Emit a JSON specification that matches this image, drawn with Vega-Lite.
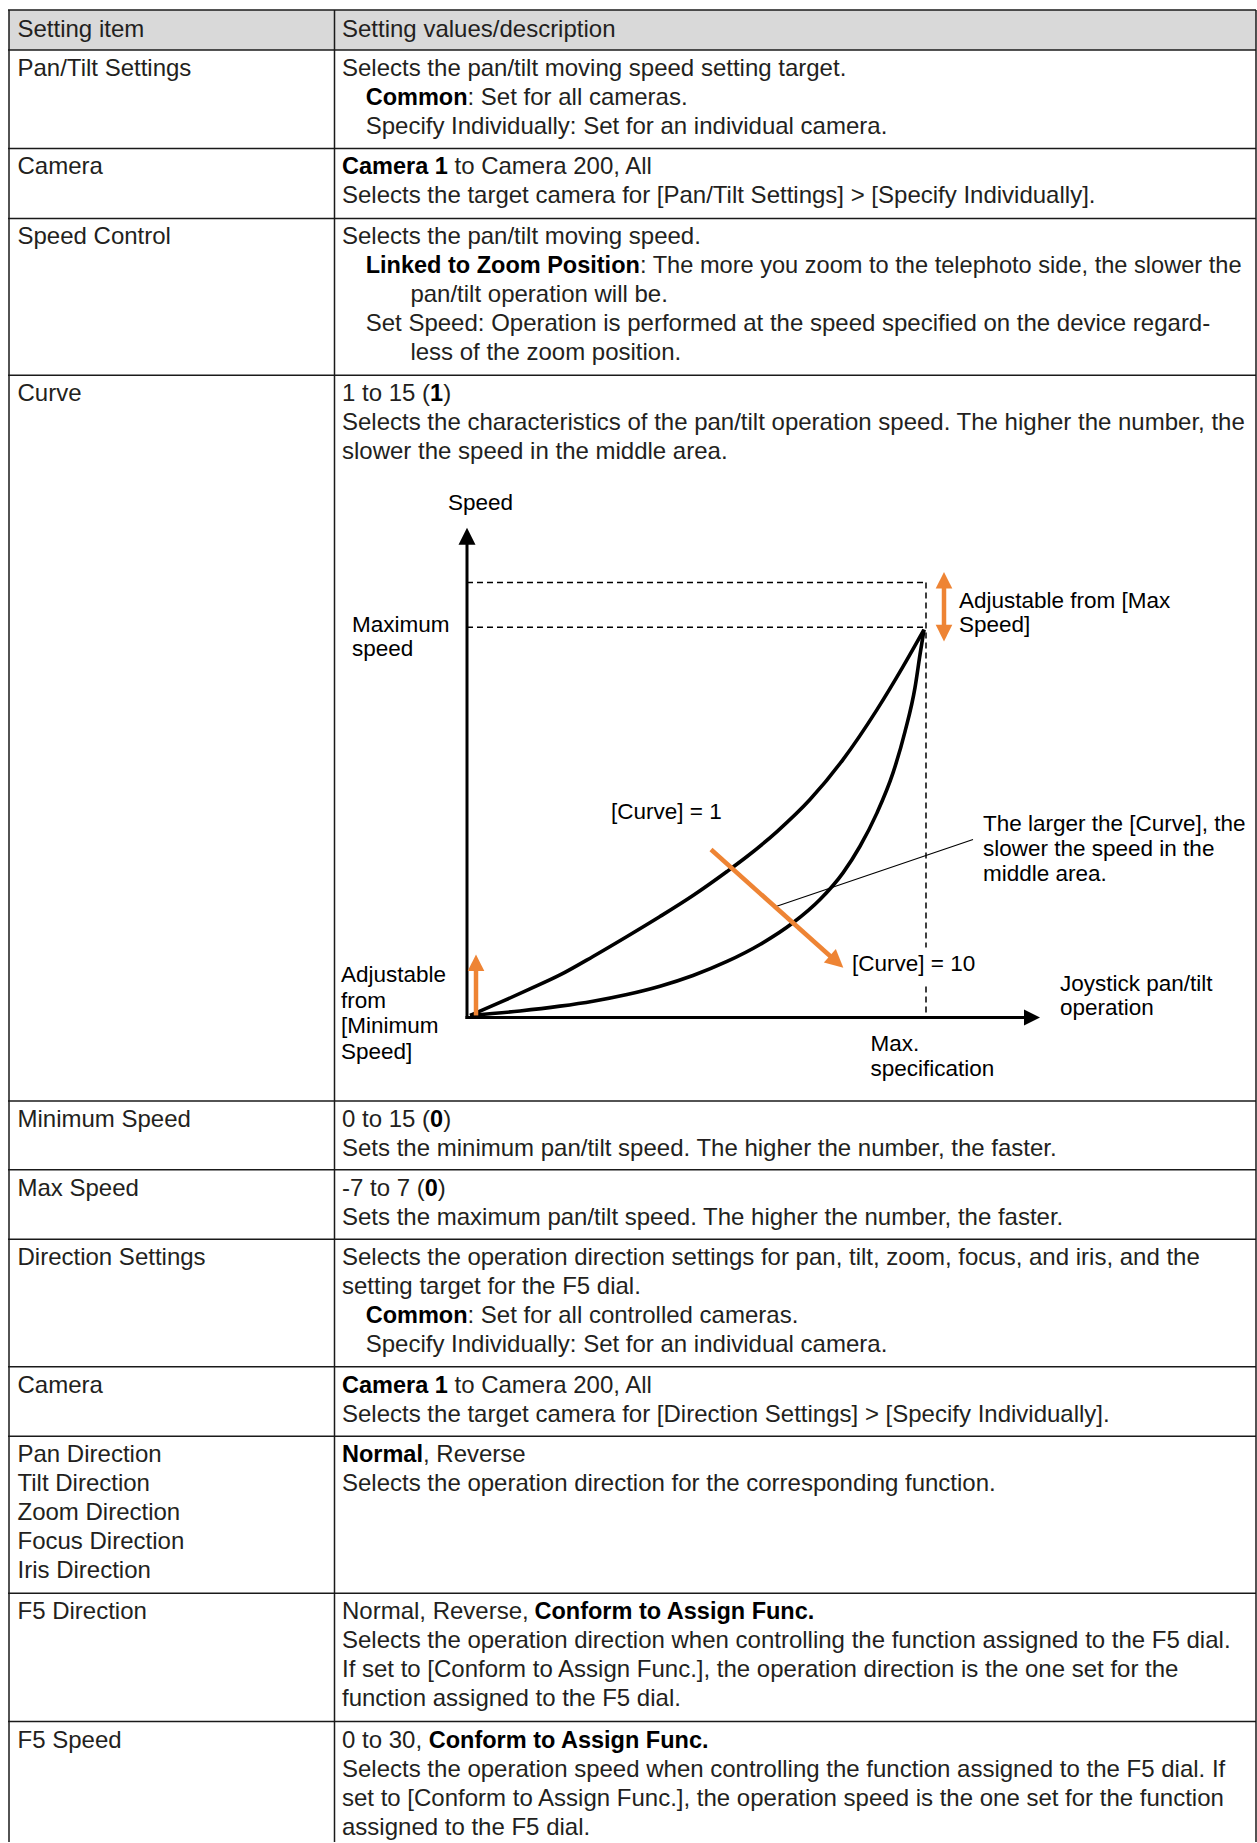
{
  "$schema": "https://vega.github.io/schema/vega-lite/v6.json",
  "width": 1257,
  "height": 1843,
  "padding": 0,
  "autosize": {"type": "fit", "contains": "padding"},
  "background": "white",
  "config": {"view": {"stroke": null}},
  "datasets": {
    "header": [{"x": 9, "x2": 1256, "y": 10, "y2": 50}],
    "grid": [
      {"x": 8, "x2": 1256, "y": 10, "y2": 10},
      {"x": 8, "x2": 1256, "y": 50, "y2": 50},
      {"x": 8, "x2": 1256, "y": 148.5, "y2": 148.5},
      {"x": 8, "x2": 1256, "y": 218.5, "y2": 218.5},
      {"x": 8, "x2": 1256, "y": 375.5, "y2": 375.5},
      {"x": 8, "x2": 1256, "y": 1101.5, "y2": 1101.5},
      {"x": 8, "x2": 1256, "y": 1170.5, "y2": 1170.5},
      {"x": 8, "x2": 1256, "y": 1240, "y2": 1240},
      {"x": 8, "x2": 1256, "y": 1367.5, "y2": 1367.5},
      {"x": 8, "x2": 1256, "y": 1437, "y2": 1437},
      {"x": 8, "x2": 1256, "y": 1594, "y2": 1594},
      {"x": 8, "x2": 1256, "y": 1722.5, "y2": 1722.5},
      {"x": 9, "x2": 9, "y": 10, "y2": 1843},
      {"x": 334.5, "x2": 334.5, "y": 10, "y2": 1843},
      {"x": 1256, "x2": 1256, "y": 10, "y2": 1843}
    ],
    "dashed": [
      {"x": 467, "x2": 926, "y": 582.7, "y2": 582.7},
      {"x": 467, "x2": 926, "y": 627.5, "y2": 627.5},
      {"x": 926, "x2": 926, "y": 582.7, "y2": 948},
      {"x": 926, "x2": 926, "y": 987, "y2": 1018}
    ],
    "axes": [
      {"x": 467, "x2": 467, "y": 1019.5, "y2": 544},
      {"x": 465.5, "x2": 1025, "y": 1018, "y2": 1018}
    ],
    "curves": [
      {"curve": "Curve 1", "x": 470, "y": 1016},
      {"curve": "Curve 1", "x": 500, "y": 1003},
      {"curve": "Curve 1", "x": 530, "y": 989.5},
      {"curve": "Curve 1", "x": 560, "y": 975.5},
      {"curve": "Curve 1", "x": 593, "y": 957},
      {"curve": "Curve 1", "x": 627, "y": 937},
      {"curve": "Curve 1", "x": 660, "y": 917},
      {"curve": "Curve 1", "x": 693, "y": 896},
      {"curve": "Curve 1", "x": 727, "y": 872},
      {"curve": "Curve 1", "x": 747, "y": 857},
      {"curve": "Curve 1", "x": 777, "y": 832},
      {"curve": "Curve 1", "x": 810, "y": 800},
      {"curve": "Curve 1", "x": 843, "y": 760},
      {"curve": "Curve 1", "x": 877, "y": 710},
      {"curve": "Curve 1", "x": 903, "y": 667},
      {"curve": "Curve 1", "x": 924, "y": 630},
      {"curve": "Curve 10", "x": 470, "y": 1016},
      {"curve": "Curve 10", "x": 520, "y": 1011.5},
      {"curve": "Curve 10", "x": 560, "y": 1006.7},
      {"curve": "Curve 10", "x": 593, "y": 1001.7},
      {"curve": "Curve 10", "x": 627, "y": 995},
      {"curve": "Curve 10", "x": 660, "y": 986.7},
      {"curve": "Curve 10", "x": 693, "y": 976},
      {"curve": "Curve 10", "x": 727, "y": 962},
      {"curve": "Curve 10", "x": 760, "y": 945},
      {"curve": "Curve 10", "x": 793, "y": 923.3},
      {"curve": "Curve 10", "x": 820, "y": 900},
      {"curve": "Curve 10", "x": 843, "y": 873.3},
      {"curve": "Curve 10", "x": 860, "y": 846.7},
      {"curve": "Curve 10", "x": 877, "y": 813.3},
      {"curve": "Curve 10", "x": 893, "y": 773.3},
      {"curve": "Curve 10", "x": 905, "y": 732},
      {"curve": "Curve 10", "x": 915, "y": 688},
      {"curve": "Curve 10", "x": 920, "y": 655},
      {"curve": "Curve 10", "x": 924, "y": 630}
    ],
    "leader": [{"x": 776, "x2": 973, "y": 907, "y2": 840}],
    "orangeLines": [
      {"x": 476, "x2": 476, "y": 1016, "y2": 966},
      {"x": 944, "x2": 944, "y": 584, "y2": 632},
      {"x": 711, "x2": 834, "y": 850, "y2": 960}
    ],
    "headUp": [{"x": 467, "y": 536.5}],
    "headRight": [{"x": 1032, "y": 1018}],
    "orangeUp": [{"x": 476, "y": 963.3}, {"x": 944, "y": 580.5}],
    "orangeDown": [{"x": 944, "y": 633.5}],
    "orangeDiag": [{"x": 836.6, "y": 962.3}],
    "cells": [
      {"t": "Setting item", "x": 17.5, "y": 37},
      {"t": "Setting values/description", "x": 342, "y": 37},
      {"t": "Pan/Tilt Settings", "x": 17.5, "y": 76},
      {"t": "Selects the pan/tilt moving speed setting target.", "x": 342, "y": 76},
      {"t": ": Set for all cameras.", "x": 467.5, "y": 105},
      {"t": "Specify Individually: Set for an individual camera.", "x": 365.7, "y": 134},
      {"t": "Camera", "x": 17.5, "y": 174.5},
      {"t": "to Camera 200, All", "x": 454.5, "y": 174.5},
      {"t": "Selects the target camera for [Pan/Tilt Settings] > [Specify Individually].", "x": 342, "y": 203.5},
      {"t": "Speed Control", "x": 17.5, "y": 244.5},
      {"t": "Selects the pan/tilt moving speed.", "x": 342, "y": 244.5},
      {"t": "pan/tilt operation will be.", "x": 410.4, "y": 302.5},
      {"t": "Set Speed: Operation is performed at the speed specified on the device regard-", "x": 365.7, "y": 331.5},
      {"t": "less of the zoom position.", "x": 410.4, "y": 360.5},
      {"t": "Curve", "x": 17.5, "y": 401.5},
      {"t": "1 to 15 (", "x": 342, "y": 401.5},
      {"t": ")", "x": 443.2, "y": 401.5},
      {"t": "Selects the characteristics of the pan/tilt operation speed. The higher the number, the", "x": 342, "y": 430.5},
      {"t": "slower the speed in the middle area.", "x": 342, "y": 459.5},
      {"t": "Minimum Speed", "x": 17.5, "y": 1127.5},
      {"t": "0 to 15 (", "x": 342, "y": 1127.5},
      {"t": ")", "x": 443.2, "y": 1127.5},
      {"t": "Sets the minimum pan/tilt speed. The higher the number, the faster.", "x": 342, "y": 1156.5},
      {"t": "Max Speed", "x": 17.5, "y": 1196.5},
      {"t": "-7 to 7 (", "x": 342, "y": 1196.5},
      {"t": ")", "x": 437.8, "y": 1196.5},
      {"t": "Sets the maximum pan/tilt speed. The higher the number, the faster.", "x": 342, "y": 1225.5},
      {"t": "Direction Settings", "x": 17.5, "y": 1266},
      {"t": "Selects the operation direction settings for pan, tilt, zoom, focus, and iris, and the", "x": 342, "y": 1266},
      {"t": "setting target for the F5 dial.", "x": 342, "y": 1295},
      {"t": ": Set for all controlled cameras.", "x": 467.5, "y": 1324},
      {"t": "Specify Individually: Set for an individual camera.", "x": 365.7, "y": 1353},
      {"t": "Camera", "x": 17.5, "y": 1393.5},
      {"t": "to Camera 200, All", "x": 454.5, "y": 1393.5},
      {"t": "Selects the target camera for [Direction Settings] > [Specify Individually].", "x": 342, "y": 1422.5},
      {"t": "Pan Direction", "x": 17.5, "y": 1463},
      {"t": "Tilt Direction", "x": 17.5, "y": 1492},
      {"t": "Zoom Direction", "x": 17.5, "y": 1521},
      {"t": "Focus Direction", "x": 17.5, "y": 1550},
      {"t": "Iris Direction", "x": 17.5, "y": 1579},
      {"t": ", Reverse", "x": 423, "y": 1463},
      {"t": "Selects the operation direction for the corresponding function.", "x": 342, "y": 1492},
      {"t": "F5 Direction", "x": 17.5, "y": 1620},
      {"t": "Normal, Reverse,", "x": 342, "y": 1620},
      {"t": "Selects the operation direction when controlling the function assigned to the F5 dial.", "x": 342, "y": 1649},
      {"t": "If set to [Conform to Assign Func.], the operation direction is the one set for the", "x": 342, "y": 1678},
      {"t": "function assigned to the F5 dial.", "x": 342, "y": 1707},
      {"t": "F5 Speed", "x": 17.5, "y": 1748.5},
      {"t": "0 to 30,", "x": 342, "y": 1748.5},
      {"t": "Selects the operation speed when controlling the function assigned to the F5 dial. If", "x": 342, "y": 1777.5},
      {"t": "set to [Conform to Assign Func.], the operation speed is the one set for the function", "x": 342, "y": 1806.5},
      {"t": "assigned to the F5 dial.", "x": 342, "y": 1835.5}
    ],
    "cellsTight": [
      {"t": ": The more you zoom to the telephoto side, the slower the", "x": 640, "y": 273.5}
    ],
    "cellsBold": [
      {"t": "Common", "x": 365.7, "y": 105},
      {"t": "Camera 1", "x": 342, "y": 174.5},
      {"t": "Linked to Zoom Position", "x": 365.7, "y": 273.5},
      {"t": "1", "x": 430.1, "y": 401.5},
      {"t": "0", "x": 430.1, "y": 1127.5},
      {"t": "0", "x": 424.7, "y": 1196.5},
      {"t": "Common", "x": 365.7, "y": 1324},
      {"t": "Camera 1", "x": 342, "y": 1393.5},
      {"t": "Normal", "x": 342, "y": 1463},
      {"t": "Conform to Assign Func.", "x": 534.5, "y": 1620},
      {"t": "Conform to Assign Func.", "x": 428.7, "y": 1748.5}
    ],
    "diagramText": [
      {"t": "Speed", "x": 448, "y": 510},
      {"t": "Maximum", "x": 352, "y": 632},
      {"t": "speed", "x": 352, "y": 656},
      {"t": "Adjustable from [Max", "x": 959, "y": 608},
      {"t": "Speed]", "x": 959, "y": 632.5},
      {"t": "[Curve] = 1", "x": 611, "y": 819},
      {"t": "The larger the [Curve], the", "x": 983, "y": 831},
      {"t": "slower the speed in the", "x": 983, "y": 856},
      {"t": "middle area.", "x": 983, "y": 881.5},
      {"t": "[Curve] = 10", "x": 852, "y": 972},
      {"t": "Joystick pan/tilt", "x": 1060, "y": 992},
      {"t": "operation", "x": 1060, "y": 1016},
      {"t": "Adjustable", "x": 341, "y": 983},
      {"t": "from", "x": 341, "y": 1008.5},
      {"t": "[Minimum", "x": 341, "y": 1034},
      {"t": "Speed]", "x": 341, "y": 1059.5},
      {"t": "Max.", "x": 870.5, "y": 1052},
      {"t": "specification", "x": 870.5, "y": 1077}
    ]
  },
  "encoding": {
    "x": {"field": "x", "type": "quantitative", "scale": {"domain": [0, 1257], "nice": false, "zero": false}, "axis": null},
    "y": {"field": "y", "type": "quantitative", "scale": {"domain": [0, 1843], "nice": false, "zero": false, "reverse": true}, "axis": null}
  },
  "layer": [
    {
      "data": {"name": "header"},
      "mark": {"type": "rect", "fill": "#d9d9d9", "strokeWidth": 0},
      "encoding": {"x2": {"field": "x2"}, "y2": {"field": "y2"}}
    },
    {
      "data": {"name": "grid"},
      "mark": {"type": "rule", "color": "#1a1a1a", "strokeWidth": 1.5},
      "encoding": {"x2": {"field": "x2"}, "y2": {"field": "y2"}}
    },
    {
      "data": {"name": "dashed"},
      "mark": {"type": "rule", "color": "#000000", "strokeWidth": 1.5, "strokeDash": [6, 4]},
      "encoding": {"x2": {"field": "x2"}, "y2": {"field": "y2"}}
    },
    {
      "data": {"name": "axes"},
      "mark": {"type": "rule", "color": "#000000", "strokeWidth": 3},
      "encoding": {"x2": {"field": "x2"}, "y2": {"field": "y2"}}
    },
    {
      "data": {"name": "curves"},
      "mark": {"type": "line", "color": "#000000", "strokeWidth": 3.6, "interpolate": "monotone"},
      "encoding": {"detail": {"field": "curve", "type": "nominal"}}
    },
    {
      "data": {"name": "leader"},
      "mark": {"type": "rule", "color": "#000000", "strokeWidth": 1.2},
      "encoding": {"x2": {"field": "x2"}, "y2": {"field": "y2"}}
    },
    {
      "data": {"name": "orangeLines"},
      "mark": {"type": "rule", "color": "#EE8434", "strokeWidth": 4.5},
      "encoding": {"x2": {"field": "x2"}, "y2": {"field": "y2"}}
    },
    {
      "data": {"name": "headUp"},
      "mark": {"type": "point", "shape": "M0,-1L1,1L-1,1Z", "size": 289, "filled": true, "color": "#000000", "opacity": 1, "angle": 0}
    },
    {
      "data": {"name": "headRight"},
      "mark": {"type": "point", "shape": "M0,-1L1,1L-1,1Z", "size": 256, "filled": true, "color": "#000000", "opacity": 1, "angle": 90}
    },
    {
      "data": {"name": "orangeUp"},
      "mark": {"type": "point", "shape": "M0,-1L1,1L-1,1Z", "size": 276, "filled": true, "color": "#EE8434", "opacity": 1, "angle": 0}
    },
    {
      "data": {"name": "orangeDown"},
      "mark": {"type": "point", "shape": "M0,-1L1,1L-1,1Z", "size": 276, "filled": true, "color": "#EE8434", "opacity": 1, "angle": 180}
    },
    {
      "data": {"name": "orangeDiag"},
      "mark": {"type": "point", "shape": "M0,-1L1,1L-1,1Z", "size": 324, "filled": true, "color": "#EE8434", "opacity": 1, "angle": 131.6}
    },
    {
      "data": {"name": "cells"},
      "mark": {"type": "text", "align": "left", "baseline": "alphabetic", "font": "Liberation Sans", "fontSize": 24, "color": "#231f20"},
      "encoding": {"text": {"field": "t"}}
    },
    {
      "data": {"name": "cellsTight"},
      "mark": {"type": "text", "align": "left", "baseline": "alphabetic", "font": "Liberation Sans", "fontSize": 23.6, "color": "#231f20"},
      "encoding": {"text": {"field": "t"}}
    },
    {
      "data": {"name": "cellsBold"},
      "mark": {"type": "text", "align": "left", "baseline": "alphabetic", "font": "Liberation Sans", "fontSize": 23.5, "fontWeight": "bold", "color": "#000000"},
      "encoding": {"text": {"field": "t"}}
    },
    {
      "data": {"name": "diagramText"},
      "mark": {"type": "text", "align": "left", "baseline": "alphabetic", "font": "Liberation Sans", "fontSize": 22.5, "color": "#000000"},
      "encoding": {"text": {"field": "t"}}
    }
  ]
}
